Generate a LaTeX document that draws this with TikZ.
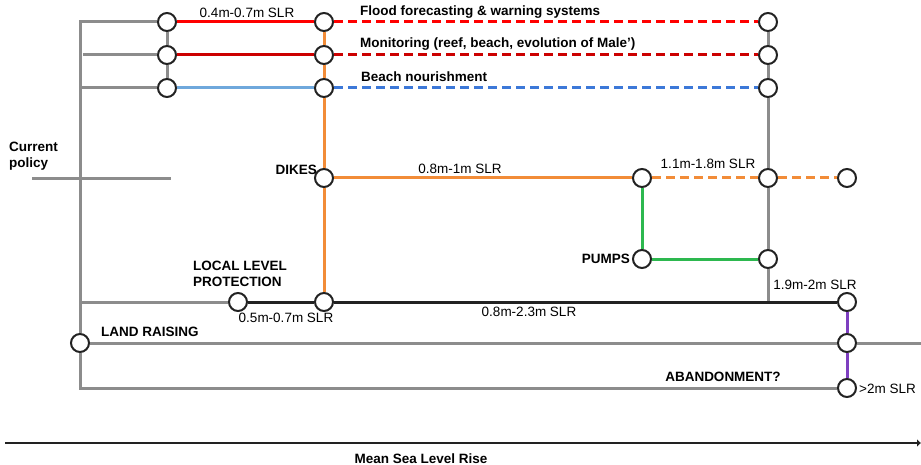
\documentclass[tikz,border=0pt]{standalone}
\usepackage{fontspec}
\setmainfont{Liberation Sans}
\usetikzlibrary{arrows.meta}
\definecolor{lgray}{HTML}{8C8C8C}
\definecolor{cred}{HTML}{FF0000}
\definecolor{cdred}{HTML}{CC0000}
\definecolor{cblue}{HTML}{6FA8DC}
\definecolor{cdblue}{HTML}{3C78D8}
\definecolor{corange}{HTML}{F28C38}
\definecolor{cgreen}{HTML}{2DB84F}
\definecolor{cpurple}{HTML}{7E3FC0}
\definecolor{cblack}{HTML}{222222}
\tikzset{
  nd/.style={circle, draw=cblack, fill=white, line width=2pt, minimum size=18pt, inner sep=0pt},
  ln/.style={line width=3pt},
  gl/.style={ln, lgray},
  dsh/.style={dash pattern=on 9pt off 5pt},
  lbl/.style={font=\fontsize{13.5}{16}\selectfont, inner sep=0pt},
  blbl/.style={font=\fontsize{13.5}{16}\selectfont\bfseries, inner sep=0pt, align=left},
}
\begin{document}
\begin{tikzpicture}[x=1pt,y=-1pt]
\useasboundingbox (0,0) rectangle (921,465);
% nodes
\node[nd] (a1) at (167,22) {};
\node[nd] (a2) at (167,55) {};
\node[nd] (a3) at (167,88) {};
\node[nd] (b1) at (324,22) {};
\node[nd] (b2) at (324,55) {};
\node[nd] (b3) at (324,88) {};
\node[nd] (c1) at (768,22) {};
\node[nd] (c2) at (768,55) {};
\node[nd] (c3) at (768,88) {};
\node[nd] (dk) at (324,178) {};
\node[nd] (p1) at (642,178) {};
\node[nd] (c4) at (768,178) {};
\node[nd] (e1) at (847,178) {};
\node[nd] (pm) at (642,259) {};
\node[nd] (c5) at (768,259) {};
\node[nd] (ll) at (238,302) {};
\node[nd] (b4) at (324,302) {};
\node[nd] (f1) at (847,302) {};
\node[nd] (lr) at (80,343) {};
\node[nd] (f2) at (847,343) {};
\node[nd] (f3) at (847,388) {};
% coordinates
\coordinate (t0) at (80,22);
\coordinate (t2) at (83,55);
\coordinate (t3) at (80,88);
\coordinate (tp) at (80,302);
\coordinate (tb) at (80,388);
\coordinate (cp1) at (32,179);
\coordinate (cp2) at (171,179);
\coordinate (lre) at (921,343);
\coordinate (c6) at (768,302);
\coordinate (ax1) at (5,443);
\coordinate (ax2) at (921,443);
% gray lines
\draw[gl, line join=miter] (a1) -- (t0) -- (lr);
\draw[gl] (t2) -- (a2);
\draw[gl] (t3) -- (a3);
\draw[gl, line join=miter] (lr) -- (tb) -- (f3);
\draw[gl] (a1) -- (a2);
\draw[gl] (a2) -- (a3);
\draw[gl] (cp1) -- (cp2);
\draw[gl] (tp) -- (ll);
\draw[gl] (lr) -- (f2);
\draw[gl] (f2) -- (lre);
\draw[gl] (c1) -- (c2);
\draw[gl] (c2) -- (c3);
\draw[gl] (c3) -- (c4);
\draw[gl] (c4) -- (c5);
\draw[gl] (c5) -- (c6);
% coloured solid
\draw[ln, cred] (a1) -- (b1);
\draw[ln, cdred] (a2) -- (b2);
\draw[ln, cblue] (a3) -- (b3);
% dashed
\draw[ln, cred, dsh] (b1) -- (c1);
\draw[ln, cdred, dsh] (b2) -- (c2);
\draw[ln, cdblue, dsh] (b3) -- (c3);
% orange
\draw[ln, corange] (b1) -- (b2);
\draw[ln, corange] (b2) -- (b3);
\draw[ln, corange] (b3) -- (dk);
\draw[ln, corange] (dk) -- (b4);
\draw[ln, corange] (dk) -- (p1);
\draw[ln, corange, dsh] (p1) -- (c4);
\draw[ln, corange, dsh] (c4) -- (e1);
% green
\draw[ln, cgreen] (p1) -- (pm);
\draw[ln, cgreen] (pm) -- (c5);
% black
\draw[ln, cblack] (ll) -- (b4);
\draw[ln, cblack] (b4) -- (f1);
% purple
\draw[ln, cpurple] (f1) -- (f2);
\draw[ln, cpurple] (f2) -- (f3);
% axis
\draw[line width=2.6pt, cblack, -{Latex[length=4pt,width=8pt]}] (ax1) -- (ax2);
% labels
\node[lbl] (l1) at (247,13) {0.4m-0.7m SLR};
\node[blbl, anchor=west] (l2) at (360,12) {Flood forecasting \& warning systems};
\node[blbl, anchor=west] (l3) at (360,44) {Monitoring (reef, beach, evolution of Male’)};
\node[blbl, anchor=west] (l4) at (361,77) {Beach nourishment};
\node[blbl, anchor=west] (l5) at (9,156) {Current\\policy};
\node[blbl, anchor=east] (l6) at (317,170) {DIKES};
\node[lbl] (l7) at (460,169) {0.8m-1m SLR};
\node[lbl] (l8) at (708,164) {1.1m-1.8m SLR};
\node[blbl, anchor=east] (l9) at (630,259) {PUMPS};
\node[blbl, anchor=west] (l10) at (193,274) {LOCAL LEVEL\\PROTECTION};
\node[lbl] (l11) at (286,318) {0.5m-0.7m SLR};
\node[lbl] (l12) at (529,312) {0.8m-2.3m SLR};
\node[lbl] (l13) at (815,285) {1.9m-2m SLR};
\node[blbl, anchor=west] (l14) at (101,332) {LAND RAISING};
\node[blbl] (l15) at (723,377) {ABANDONMENT?};
\node[lbl, anchor=west] (l16) at (859,389) {>2m SLR};
\node[blbl] (l17) at (421,459) {Mean Sea Level Rise};
\end{tikzpicture}
\end{document}
